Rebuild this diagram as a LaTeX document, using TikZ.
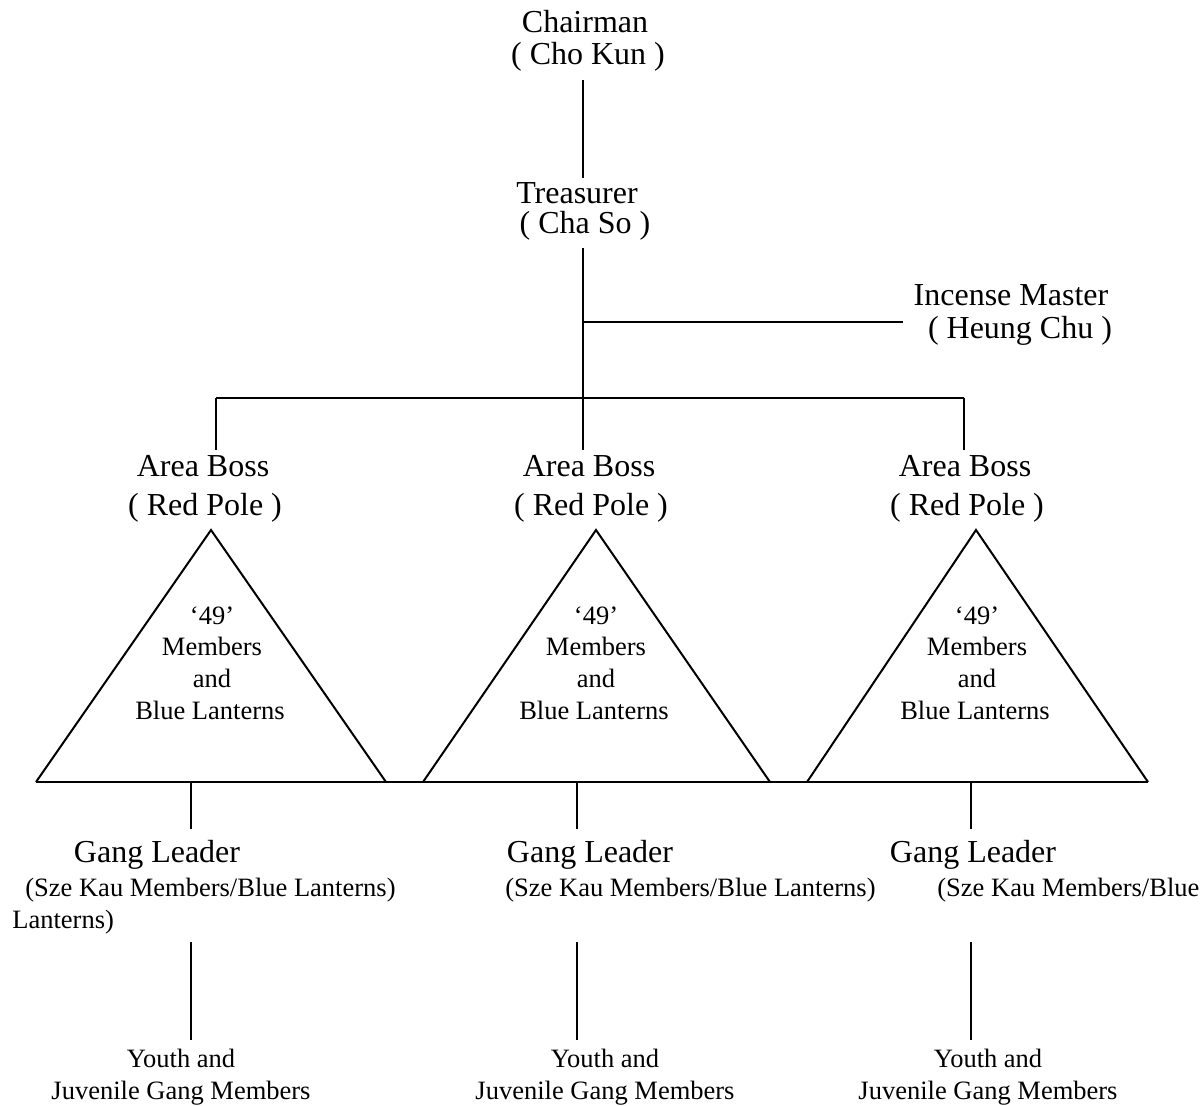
\documentclass[tikz,border=0pt]{standalone}
\usepackage{fontspec}
\setmainfont{Liberation Serif}
\begin{document}
\begin{tikzpicture}[x=0.5pt,y=-0.5pt,
  big/.style={font=\fontsize{16}{18}\selectfont, inner sep=0pt, anchor=base},
  small/.style={font=\fontsize{13.25}{16}\selectfont, inner sep=0pt, anchor=base},
  link/.style={line width=1pt},
  tri/.style={line width=1pt, line join=miter}]
\useasboundingbox (0,0) rectangle (1204,1105);

% --- top of the hierarchy
\node[big] (chair)  at (585,32)  {Chairman};
\node[big] (chairc) at (588,64)  {( Cho Kun )};
\node[big] (treas)  at (577,203) {Treasurer};
\node[big] (treasc) at (585,233) {( Cha So )};
\node[big] (incense)  at (1011,305) {Incense Master};
\node[big] (incensec) at (1020,338) {( Heung Chu )};

\coordinate (chairB) at (583,80);
\coordinate (treasT) at (583,178);
\coordinate (treasB) at (583,248);
\coordinate (incJ)   at (583,322);
\coordinate (incE)   at (903,322);
\coordinate (busL)   at (216,398);
\coordinate (busM)   at (583,398);
\coordinate (busR)   at (964,398);

\draw[link] (chairB) -- (treasT);
\draw[link] (treasB) -- (busM);
\draw[link] (incJ) -- (incE);
\draw[link] (busL) -- (busR);

% --- area bosses and their triangles
\foreach \n/\bx/\cx/\ax/\lx/\rx/\tx in
  {L/216/203/211/36/386/211, M/583/589/596/423/770/595, R/964/965/976/807/1148/976}{
  \coordinate (drop\n) at (\bx,450);
  \draw[link] (bus\n) -- (drop\n);
  \node[big] (boss\n)  at (\cx,476) {Area Boss};
  \node[big] (bossc\n) at (\cx+2,515) {( Red Pole )};
  \coordinate (apex\n) at (\ax,530);
  \coordinate (bl\n) at (\lx,782);
  \coordinate (br\n) at (\rx,782);
  \draw[tri] (bl\n) -- (apex\n) -- (br\n);
  \node[small] (n49\n)  at (\tx+1,624) {`49'};
  \node[small] (mem\n)  at (\tx+1,655) {Members};
  \node[small] (and\n)  at (\tx+1,687) {and};
  \node[small] (blue\n) at (\tx-1,719) {Blue Lanterns};
}
\draw[link] (blL) -- (brR);

% --- gang leaders and youth
\foreach \n/\sx/\gx/\yx in {L/191/157/181, M/577/590/605, R/971/973/988}{
  \coordinate (stemA\n) at (\sx,782);
  \coordinate (stemB\n) at (\sx,829);
  \draw[link] (stemA\n) -- (stemB\n);
  \node[big] (gang\n) at (\gx,862) {Gang Leader};
  \coordinate (lowA\n) at (\sx,942);
  \coordinate (lowB\n) at (\sx,1040);
  \draw[link] (lowA\n) -- (lowB\n);
  \node[small] (youth\n) at (\yx,1067) {Youth and};
  \node[small] (juv\n)   at (\yx,1099) {Juvenile Gang Members};
}
\node[small, anchor=base west] (szeL) at (25,896)  {(Sze Kau Members/Blue Lanterns)};
\node[small, anchor=base west] (szeM) at (505,896) {(Sze Kau Members/Blue Lanterns)};
\node[small, anchor=base west] (szeR) at (937,896) {(Sze Kau Members/Blue};
\node[small, anchor=base west] (lant) at (12,928)  {Lanterns)};
\end{tikzpicture}
\end{document}
